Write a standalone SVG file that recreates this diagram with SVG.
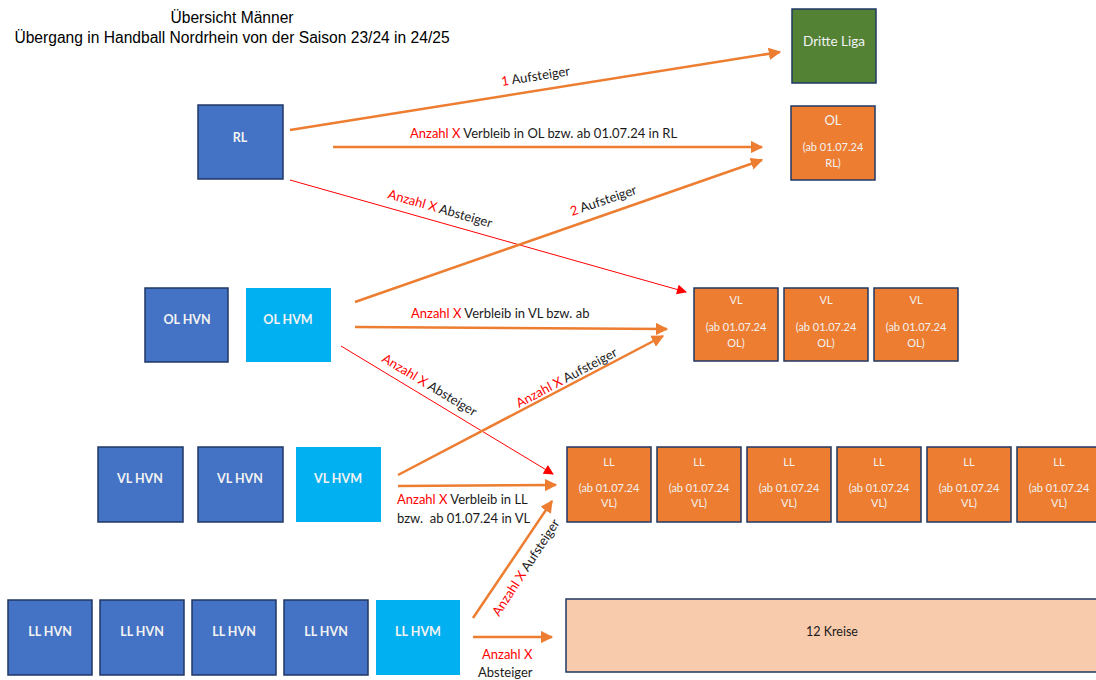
<svg xmlns="http://www.w3.org/2000/svg" width="1096" height="680" viewBox="0 0 1096 680">
<style>
.title{font-family:"Liberation Sans",Arial,sans-serif;font-size:15.6px;fill:#000;text-anchor:middle}
.blue{fill:#4472C4;stroke:#1F3864;stroke-width:1.5}
.cyan{fill:#00B0F0}
.org{fill:#ED7D31;stroke:#1F3864;stroke-width:1.5}
.green{fill:#548235;stroke:#1F3864;stroke-width:1.5}
.peach{fill:#F8CBAD;stroke:#1F3864;stroke-width:1.5}
.nt{font-family:Lato,"Open Sans",sans-serif;font-size:12.5px;fill:#F2F2F2;text-anchor:middle;font-weight:bold}
.st{font-family:Lato,"Open Sans",sans-serif;font-size:11px;fill:#F2F2F2;text-anchor:middle}
.big{font-size:13px}
.dl{font-family:Lato,"Open Sans",sans-serif;font-size:13.5px;fill:#F2F2F2;text-anchor:middle}
.lbl{font-family:Lato,"Open Sans",sans-serif;font-size:13px;fill:#1a1a1a}
.kr{font-family:Lato,"Open Sans",sans-serif;font-size:12.5px;fill:#1a1a1a;text-anchor:middle}
.r{fill:#FF0000}
.oa{stroke:#ED7D31;stroke-width:2.5;fill:none;marker-end:url(#ao)}
.ra{stroke:#FF0000;stroke-width:1;fill:none;marker-end:url(#ar)}
</style>
<defs>
<marker id="ao" viewBox="0 0 10 10" refX="9" refY="5" markerWidth="5" markerHeight="5" orient="auto" markerUnits="strokeWidth"><path d="M0,0 L10,5 L0,10 z" fill="#ED7D31"/></marker>
<marker id="ar" viewBox="0 0 10 10" refX="9" refY="5" markerWidth="11" markerHeight="10" orient="auto" markerUnits="strokeWidth"><path d="M0,0 L10,5 L0,10 z" fill="#FF0000"/></marker>
</defs>
<rect width="1096" height="680" fill="#fff"/>
<g id="title">
<text class="title" x="232" y="23">Übersicht Männer</text>
<text class="title" x="232" y="43">Übergang in Handball Nordrhein von der Saison 23/24 in 24/25</text>
</g>
<g id="connectors">
<line class="oa" x1="290" y1="130" x2="780" y2="52"/>
<text class="lbl" transform="translate(502,86) rotate(-9)"><tspan class="r">1</tspan> Aufsteiger</text>
<line class="oa" x1="333" y1="147" x2="762" y2="147"/>
<text class="lbl" x="410" y="138"><tspan class="r">Anzahl X</tspan> Verbleib in OL bzw. ab 01.07.24 in RL</text>
<line class="ra" x1="290" y1="180" x2="686" y2="292"/>
<text class="lbl" transform="translate(387,198) rotate(16)"><tspan class="r">Anzahl X</tspan> Absteiger</text>
<line class="oa" x1="355" y1="302" x2="762" y2="160"/>
<text class="lbl" transform="translate(572,216) rotate(-19)"><tspan class="r">2</tspan> Aufsteiger</text>
<line class="oa" x1="355" y1="327" x2="667" y2="329"/>
<text class="lbl" x="411" y="318"><tspan class="r">Anzahl X</tspan> Verbleib in VL bzw. ab</text>
<line class="ra" x1="341" y1="346" x2="553" y2="474"/>
<text class="lbl" transform="translate(381,361) rotate(31)"><tspan class="r">Anzahl X</tspan> Absteiger</text>
<line class="oa" x1="398" y1="475" x2="663" y2="336"/>
<text class="lbl" transform="translate(519,408) rotate(-28)"><tspan class="r">Anzahl X</tspan> Aufsteiger</text>
<line class="oa" x1="398" y1="486" x2="556" y2="485"/>
<text class="lbl" x="397" y="504"><tspan class="r">Anzahl X</tspan> Verbleib in LL</text>
<text class="lbl" x="397" y="523">bzw.&#160; ab 01.07.24 in VL</text>
<line class="oa" x1="473" y1="618" x2="552" y2="501"/>
<text class="lbl" transform="translate(499,617) rotate(-57)"><tspan class="r">Anzahl X</tspan> Aufsteiger</text>
<line class="oa" x1="473" y1="637" x2="552" y2="637"/>
<text class="lbl r" x="482" y="659">Anzahl X</text>
<text class="lbl" x="478" y="677">Absteiger</text>
</g>
<g id="dritte"><rect class="green" x="792" y="9" width="84" height="74"/><text class="dl" x="834" y="46">Dritte Liga</text></g>
<g id="ol"><rect class="org" x="791" y="106" width="84" height="74"/><text class="st big" x="833" y="125">OL</text><text class="st" x="833" y="151">(ab 01.07.24</text><text class="st" x="833" y="167">RL)</text></g>
<g id="rl"><rect class="blue" x="198" y="105" width="85" height="74"/><text class="nt" x="240" y="142">RL</text></g>
<g id="olhvn"><rect class="blue" x="145" y="288" width="83" height="74"/><text class="nt" x="187" y="324">OL HVN</text></g>
<g id="olhvm"><rect class="cyan" x="246" y="288" width="85" height="74"/><text class="nt" x="288" y="324">OL HVM</text></g>
<g id="vl1"><rect class="org" x="694" y="288" width="84" height="73"/><text class="st" x="736" y="304">VL</text><text class="st" x="736" y="331">(ab 01.07.24</text><text class="st" x="736" y="347">OL)</text></g>
<g id="vl2"><rect class="org" x="784" y="288" width="84" height="73"/><text class="st" x="826" y="304">VL</text><text class="st" x="826" y="331">(ab 01.07.24</text><text class="st" x="826" y="347">OL)</text></g>
<g id="vl3"><rect class="org" x="874" y="288" width="84" height="73"/><text class="st" x="916" y="304">VL</text><text class="st" x="916" y="331">(ab 01.07.24</text><text class="st" x="916" y="347">OL)</text></g>
<g id="vlhvn1"><rect class="blue" x="98" y="447" width="85" height="75"/><text class="nt" x="140" y="483">VL HVN</text></g>
<g id="vlhvn2"><rect class="blue" x="198" y="447" width="85" height="75"/><text class="nt" x="240" y="483">VL HVN</text></g>
<g id="vlhvm"><rect class="cyan" x="296" y="447" width="85" height="75"/><text class="nt" x="338" y="483">VL HVM</text></g>
<g id="ll1"><rect class="org" x="567" y="447" width="84" height="75"/><text class="st" x="609" y="466">LL</text><text class="st" x="609" y="492">(ab 01.07.24</text><text class="st" x="609" y="507">VL)</text></g>
<g id="ll2"><rect class="org" x="657" y="447" width="84" height="75"/><text class="st" x="699" y="466">LL</text><text class="st" x="699" y="492">(ab 01.07.24</text><text class="st" x="699" y="507">VL)</text></g>
<g id="ll3"><rect class="org" x="747" y="447" width="84" height="75"/><text class="st" x="789" y="466">LL</text><text class="st" x="789" y="492">(ab 01.07.24</text><text class="st" x="789" y="507">VL)</text></g>
<g id="ll4"><rect class="org" x="837" y="447" width="84" height="75"/><text class="st" x="879" y="466">LL</text><text class="st" x="879" y="492">(ab 01.07.24</text><text class="st" x="879" y="507">VL)</text></g>
<g id="ll5"><rect class="org" x="927" y="447" width="84" height="75"/><text class="st" x="969" y="466">LL</text><text class="st" x="969" y="492">(ab 01.07.24</text><text class="st" x="969" y="507">VL)</text></g>
<g id="ll6"><rect class="org" x="1017" y="447" width="84" height="75"/><text class="st" x="1059" y="466">LL</text><text class="st" x="1059" y="492">(ab 01.07.24</text><text class="st" x="1059" y="507">VL)</text></g>
<g id="llhvn1"><rect class="blue" x="8" y="600" width="84" height="75"/><text class="nt" x="50" y="636">LL HVN</text></g>
<g id="llhvn2"><rect class="blue" x="100" y="600" width="84" height="75"/><text class="nt" x="142" y="636">LL HVN</text></g>
<g id="llhvn3"><rect class="blue" x="192" y="600" width="84" height="75"/><text class="nt" x="234" y="636">LL HVN</text></g>
<g id="llhvn4"><rect class="blue" x="284" y="600" width="84" height="75"/><text class="nt" x="326" y="636">LL HVN</text></g>
<g id="llhvm"><rect class="cyan" x="376" y="600" width="84" height="75"/><text class="nt" x="418" y="636">LL HVM</text></g>
<g id="kreise"><rect class="peach" x="566" y="599" width="540" height="73"/><text class="kr" x="832" y="636">12 Kreise</text></g>
</svg>
